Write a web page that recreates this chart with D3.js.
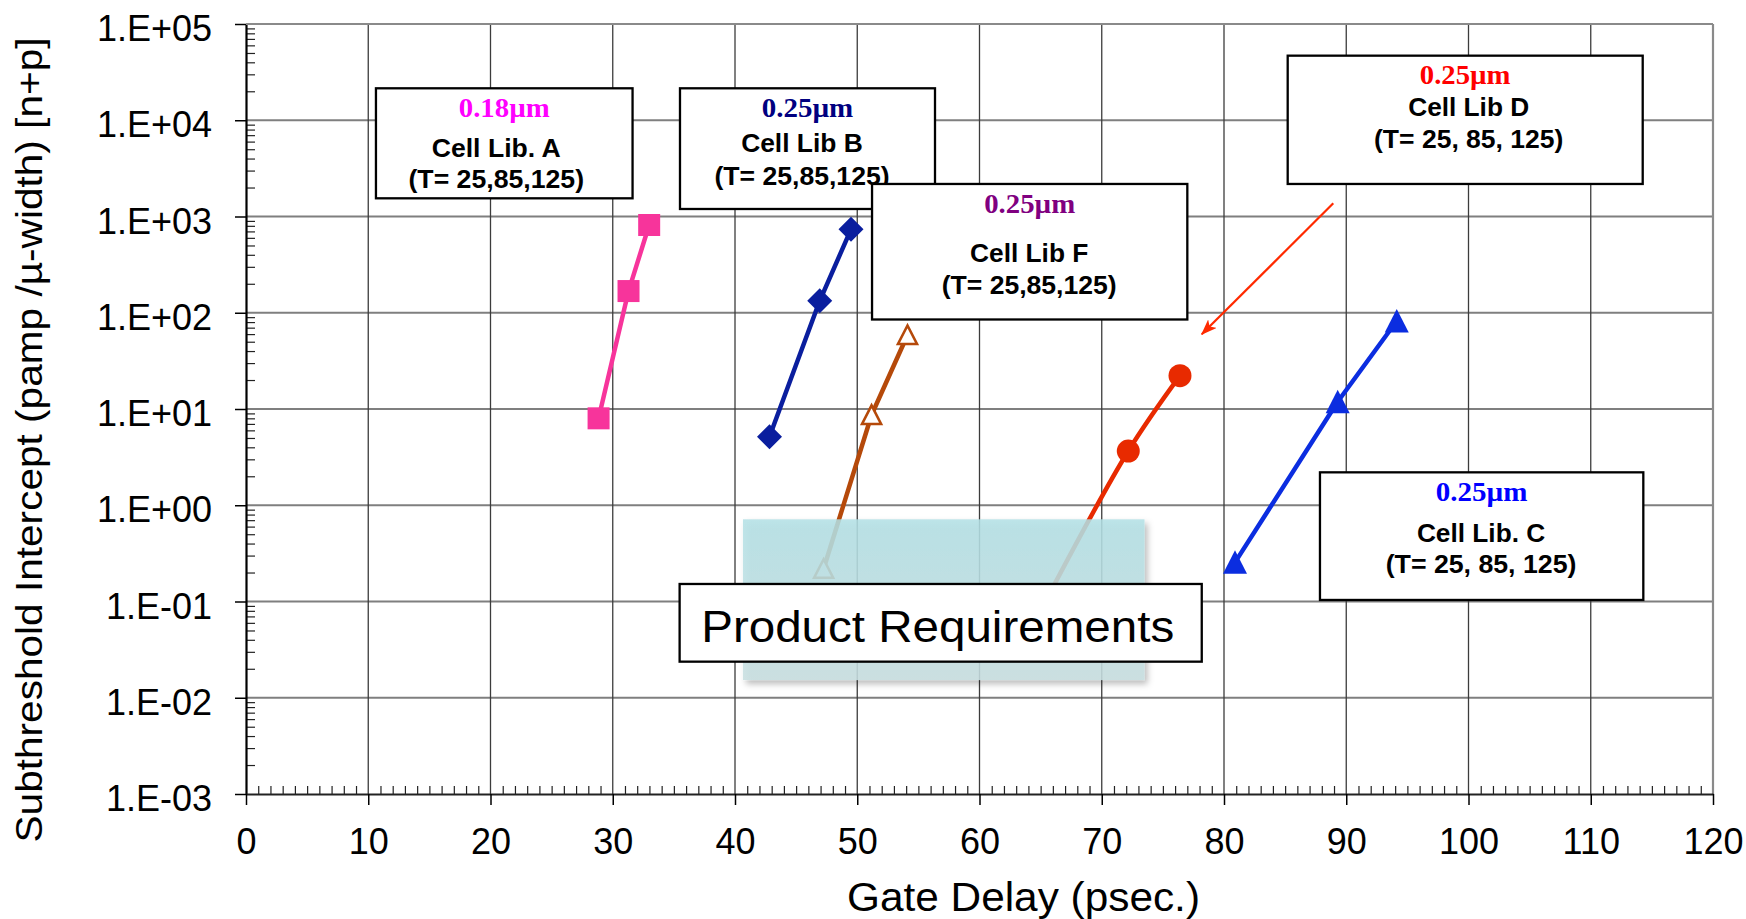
<!DOCTYPE html>
<html><head><meta charset="utf-8">
<script src="https://cdn.jsdelivr.net/npm/d3@7"></script>
<style>html,body{margin:0;padding:0;background:#fff;} svg{display:block;}</style>
</head><body>
<svg id="chart" width="1746" height="919"></svg>
<script>
// ---------------- data ----------------
const xTicks = [0, 10, 20, 30, 40, 50, 60, 70, 80, 90, 100, 110, 120];
const xTickLabels = ["0", "10", "20", "30", "40", "50", "60", "70", "80", "90", "100", "110", "120"];
const yTicks = [1e-3, 1e-2, 1e-1, 1e0, 1e1, 1e2, 1e3, 1e4, 1e5];
const yTickLabels = ["1.E-03", "1.E-02", "1.E-01", "1.E+00", "1.E+01", "1.E+02", "1.E+03", "1.E+04", "1.E+05"];
const temperatures = [25, 85, 125];

const delayA = [28.84, 31.29, 32.98];
const leakA  = [8.0, 168, 816];
const delayB = [42.82, 46.93, 49.49];
const leakB  = [5.15, 133, 736];
const delayF = [47.25, 51.17, 54.11];
const leakF  = [0.219, 8.67, 58.7];
const delayD = [65.2, 72.17, 76.4];
const leakD  = [0.09, 3.66, 22.2];
const delayC = [80.9, 89.3, 94.13];
const leakC  = [0.255, 11.9, 82];

const xTitle = "Gate Delay (psec.)";
const yTitle = "Subthreshold Intercept (pamp /\u00b5-width) [n+p]";

// ---------------- setup ----------------
const svg = d3.select("#chart");
const L = 246, R = 1713, T = 24, B = 794;
const x = d3.scaleLinear().domain([0, 120]).range([L, R]);
const y = d3.scaleLog().domain([1e-3, 1e5]).range([B, T]);
const yE = e => y(Math.pow(10, e));
const SANS = "'Liberation Sans', Arial, sans-serif";
const SERIF = "'Liberation Serif', 'Times New Roman', serif";

const defs = svg.append("defs");
const grad = defs.append("linearGradient").attr("id", "cyanGrad").attr("x1", 0).attr("y1", 0).attr("x2", 0).attr("y2", 1);
grad.append("stop").attr("offset", "0%").attr("stop-color", "#b3e1e6");
grad.append("stop").attr("offset", "100%").attr("stop-color", "#c8dfe1");
const shadow = defs.append("filter").attr("id", "shadow").attr("x", "-10%").attr("y", "-10%").attr("width", "130%").attr("height", "130%");
shadow.append("feDropShadow").attr("dx", 3).attr("dy", 4).attr("stdDeviation", 3).attr("flood-color", "#000").attr("flood-opacity", 0.3);
defs.append("marker").attr("id", "arrowHead").attr("viewBox", "0 0 16 12").attr("refX", 15).attr("refY", 6)
  .attr("markerWidth", 16).attr("markerHeight", 12).attr("markerUnits", "userSpaceOnUse").attr("orient", "auto")
  .append("path").attr("d", "M0,0 L16,6 L0,12 L4,6 Z").attr("fill", "#ff2a00");

// ---------------- grid ----------------
const grid = svg.append("g");
grid.selectAll("line.h").data(yTicks.slice(1)).join("line")
  .attr("x1", L).attr("x2", R).attr("y1", d => y(d)).attr("y2", d => y(d))
  .attr("stroke", "#7f7f7f").attr("stroke-width", 2);
grid.selectAll("line.v").data(xTicks.slice(1, -1)).join("line")
  .attr("x1", d => x(d)).attr("x2", d => x(d)).attr("y1", T).attr("y2", B)
  .attr("stroke", "#3c3c3c").attr("stroke-width", 1.3);
grid.append("line").attr("x1", x(120)).attr("x2", x(120)).attr("y1", T).attr("y2", B)
  .attr("stroke", "#8a8a8a").attr("stroke-width", 2.2);

// ---------------- axes ----------------
const yMinor = [];
for (let e = -3; e < 5; e++) for (let m = 2; m <= 9; m++) yMinor.push(m * Math.pow(10, e));
const xMinor = d3.range(1, 120).filter(v => v % 10 !== 0);

const gyMinor = svg.append("g").attr("transform", `translate(${L},0)`)
  .call(d3.axisLeft(y).tickValues(yMinor).tickSize(-9).tickFormat(""));
gyMinor.select(".domain").remove();
gyMinor.selectAll(".tick line").attr("stroke", "#222").attr("stroke-width", 1.2);

const gxMinor = svg.append("g").attr("transform", `translate(0,${B})`)
  .call(d3.axisBottom(x).tickValues(xMinor).tickSize(-8).tickFormat(""));
gxMinor.select(".domain").remove();
gxMinor.selectAll(".tick line").attr("stroke", "#222").attr("stroke-width", 1.2);

const gy = svg.append("g").attr("transform", `translate(${L},0)`)
  .call(d3.axisLeft(y).tickValues(yTicks).tickFormat((d, i) => yTickLabels[i]).tickSizeInner(11).tickSizeOuter(0).tickPadding(23));
gy.select(".domain").attr("stroke", "#000").attr("stroke-width", 2.2);
gy.selectAll(".tick line").attr("stroke", "#000").attr("stroke-width", 1.5);
gy.selectAll(".tick text").attr("font-family", SANS).attr("font-size", 36).attr("fill", "#000").attr("dy", "0.46em");

const gx = svg.append("g").attr("transform", `translate(0,${B})`)
  .call(d3.axisBottom(x).tickValues(xTicks).tickFormat((d, i) => xTickLabels[i]).tickSizeInner(11).tickSizeOuter(0).tickPadding(23));
gx.select(".domain").attr("stroke", "#222").attr("stroke-width", 2.2);
gx.selectAll(".tick line").attr("stroke", "#000").attr("stroke-width", 1.5);
gx.selectAll(".tick text").attr("font-family", SANS).attr("font-size", 36).attr("fill", "#000");

// top border
svg.append("line").attr("x1", L).attr("x2", R).attr("y1", y(1e5)).attr("y2", y(1e5))
  .attr("stroke", "#8a8a8a").attr("stroke-width", 2.2);

// titles
svg.append("text").attr("x", (L + R) / 2 + 44).attr("y", 911).attr("text-anchor", "middle")
  .attr("font-family", SANS).attr("font-size", 40).attr("textLength", 353).attr("lengthAdjust", "spacingAndGlyphs")
  .text(xTitle);
svg.append("text").attr("transform", `translate(42,${(T + B) / 2 + 31}) rotate(-90)`).attr("text-anchor", "middle")
  .attr("font-family", SANS).attr("font-size", 37).attr("textLength", 805).attr("lengthAdjust", "spacingAndGlyphs")
  .text(yTitle);

// ---------------- series ----------------
const series = [
  {name: "A", xs: delayA, ys: leakA, color: "#f7349b", marker: "square", curve: d3.curveLinear},
  {name: "B", xs: delayB, ys: leakB, color: "#0a1e9e", marker: "diamond", curve: d3.curveLinear},
  {name: "F", xs: delayF, ys: leakF, color: "#b5490a", marker: "openTri", curve: d3.curveLinear},
  {name: "D", xs: delayD, ys: leakD, color: "#e82a00", marker: "circle", curve: d3.curveCatmullRom.alpha(0.5)},
  {name: "C", xs: delayC, ys: leakC, color: "#0b2de0", marker: "tri", curve: d3.curveLinear}
];
const gSeries = svg.append("g");
series.forEach(s => {
  const pts = s.xs.map((v, i) => ({dx: v, ly: s.ys[i], t: temperatures[i]}));
  const line = d3.line().x(d => x(d.dx)).y(d => y(d.ly)).curve(s.curve);
  gSeries.append("path").datum(pts).attr("d", line).attr("fill", "none")
    .attr("stroke", s.color).attr("stroke-width", 4.5).attr("stroke-linejoin", "round");
  const g = gSeries.append("g");
  pts.forEach(p => {
    const cx = x(p.dx), cy = y(p.ly);
    if (s.marker === "square") {
      g.append("rect").attr("x", cx - 11).attr("y", cy - 11).attr("width", 22).attr("height", 22).attr("fill", s.color);
    } else if (s.marker === "diamond") {
      g.append("path").attr("d", `M${cx},${cy - 12.5} L${cx + 12.5},${cy} L${cx},${cy + 12.5} L${cx - 12.5},${cy} Z`).attr("fill", s.color);
    } else if (s.marker === "openTri") {
      g.append("path").attr("d", `M${cx},${cy - 9.5} L${cx + 9.5},${cy + 9} L${cx - 9.5},${cy + 9} Z`)
        .attr("fill", "#fff").attr("stroke", s.color).attr("stroke-width", 2.6).attr("stroke-linejoin", "miter");
    } else if (s.marker === "circle") {
      g.append("circle").attr("cx", cx).attr("cy", cy).attr("r", 11.5).attr("fill", s.color);
    } else if (s.marker === "tri") {
      g.append("path").attr("d", `M${cx},${cy - 12} L${cx + 12},${cy + 11.5} L${cx - 12},${cy + 11.5} Z`).attr("fill", s.color);
    }
  });
});

// ---------------- annotations (placed in data space) ----------------
const labelBoxes = [
  {x0: 10.63, x1: 31.62, e0: 4.332, e1: 3.189, size: "0.18\u00b5m", sizeColor: "#ff00ff", lib: "Cell Lib. A", temps: "(T= 25,85,125)",
   off: [28.4, 68.4, 99.4], dx: -8, w: [91, 129, 175.5]},
  {x0: 35.5, x1: 56.36, e0: 4.332, e1: 3.078, size: "0.25\u00b5m", sizeColor: "#000080", lib: "Cell Lib B", temps: "(T= 25,85,125)",
   off: [28.4, 64, 96.5], dx: -5.5, w: [91.5, 121.7, 175.2]},
  {x0: 51.21, x1: 77.0, e0: 3.338, e1: 1.930, size: "0.25\u00b5m", sizeColor: "#800080", lib: "Cell Lib F", temps: "(T= 25,85,125)",
   off: [28.7, 78.3, 110], dx: -0.5, w: [91, 118.3, 175]},
  {x0: 85.21, x1: 114.25, e0: 4.671, e1: 3.338, size: "0.25\u00b5m", sizeColor: "#ff0000", lib: "Cell Lib D", temps: "(T= 25, 85, 125)",
   off: [28.6, 60, 92.6], dx: 3.5, w: [90.7, 121, 189.3]},
  {x0: 87.85, x1: 114.3, e0: 0.342, e1: -0.984, size: "0.25\u00b5m", sizeColor: "#0000ff", lib: "Cell Lib. C", temps: "(T= 25, 85, 125)",
   off: [28.4, 69.4, 100.4], dx: -0.6, w: [91.7, 128.3, 190.7]}
];
const gAnn = svg.append("g");
labelBoxes.forEach(b => {
  const bx0 = x(b.x0), bx1 = x(b.x1), by0 = yE(b.e0), by1 = yE(b.e1);
  const cx = (bx0 + bx1) / 2;
  gAnn.append("rect").attr("x", bx0).attr("y", by0).attr("width", bx1 - bx0).attr("height", by1 - by0)
    .attr("fill", "#fff").attr("stroke", "#000").attr("stroke-width", 2.3);
  gAnn.append("text").attr("x", cx).attr("y", by0 + b.off[0]).attr("text-anchor", "middle")
    .attr("font-family", SERIF).attr("font-weight", "bold").attr("font-size", 28).attr("fill", b.sizeColor)
    .attr("textLength", b.w[0]).attr("lengthAdjust", "spacingAndGlyphs").text(b.size);
  gAnn.append("text").attr("x", cx + b.dx).attr("y", by0 + b.off[1]).attr("text-anchor", "middle")
    .attr("font-family", SANS).attr("font-weight", "bold").attr("font-size", 25).attr("fill", "#000")
    .attr("textLength", b.w[1]).attr("lengthAdjust", "spacingAndGlyphs").text(b.lib);
  gAnn.append("text").attr("x", cx + b.dx).attr("y", by0 + b.off[2]).attr("text-anchor", "middle")
    .attr("font-family", SANS).attr("font-weight", "bold").attr("font-size", 25).attr("fill", "#000")
    .attr("textLength", b.w[2]).attr("lengthAdjust", "spacingAndGlyphs").text(b.temps);
});

// arrow from Cell Lib D label
const arrow = {x0: 88.94, e0: 3.137, x1: 78.18, e1: 1.776};
gAnn.append("line").attr("x1", x(arrow.x0)).attr("y1", yE(arrow.e0)).attr("x2", x(arrow.x1)).attr("y2", yE(arrow.e1))
  .attr("stroke", "#ff2a00").attr("stroke-width", 2.2).attr("marker-end", "url(#arrowHead)");

// product requirements region
const reqRegion = {x0: 40.65, x1: 73.5, e0: -0.146, e1: -1.816};
gAnn.append("rect").attr("x", x(reqRegion.x0)).attr("y", yE(reqRegion.e0))
  .attr("width", x(reqRegion.x1) - x(reqRegion.x0)).attr("height", yE(reqRegion.e1) - yE(reqRegion.e0))
  .attr("fill", "url(#cyanGrad)").attr("fill-opacity", 0.86).attr("filter", "url(#shadow)");
const reqLabel = {x0: 35.47, x1: 78.18, e0: -0.818, e1: -1.625, text: "Product Requirements"};
gAnn.append("rect").attr("x", x(reqLabel.x0)).attr("y", yE(reqLabel.e0))
  .attr("width", x(reqLabel.x1) - x(reqLabel.x0)).attr("height", yE(reqLabel.e1) - yE(reqLabel.e0))
  .attr("fill", "#fff").attr("stroke", "#000").attr("stroke-width", 2.3);
gAnn.append("text").attr("x", (x(reqLabel.x0) + x(reqLabel.x1)) / 2 - 3).attr("y", yE(reqLabel.e0) + 57.7)
  .attr("text-anchor", "middle").attr("font-family", SANS).attr("font-size", 45).attr("fill", "#000")
  .attr("textLength", 473).attr("lengthAdjust", "spacingAndGlyphs").text(reqLabel.text);
</script>
</body></html>
